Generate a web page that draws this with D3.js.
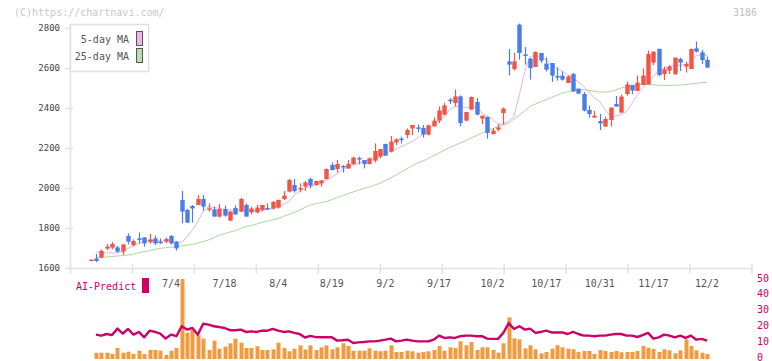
<!DOCTYPE html>
<html><head><meta charset="utf-8">
<script src="https://cdn.jsdelivr.net/npm/d3@7"></script>
<style>body{margin:0;background:#fff;} svg{display:block;}</style>
</head><body>
<svg id="c" width="772" height="361"></svg>
<script>
// ---- data ----
const dateLabels = ["7/4","7/18","8/4","8/19","9/2","9/17","10/2","10/17","10/31","11/17","12/2"];
const labelIndex = [15,25,35,45,55,65,75,85,95,105,115];
const priceTicks = [1600,1800,2000,2200,2400,2600,2800];
const aiTicks = [0,10,20,30,40,50];

const open  = [1638,1647,1653,1697,1702,1703,1682,1760,1715,1748,1753,1730,1748,1732,1732,1760,1730,1940,1890,1910,
               1915,1945,1895,1893,1857,1895,1837,1900,1882,1915,1878,1878,1890,1900,1897,1902,1945,1982,2015,1997,
               2007,2045,2015,2023,2045,2115,2095,2110,2098,2120,2150,2140,2120,2137,2157,2220,2182,2228,2247,2265,
               2298,2303,2300,2267,2308,2337,2367,2442,2425,2458,2337,2392,2430,2347,2355,2270,2292,2375,2633,2595,
               2817,2668,2647,2605,2675,2622,2625,2560,2562,2525,2570,2497,2470,2390,2352,2335,2307,2340,2420,2377,
               2470,2515,2485,2515,2518,2627,2695,2570,2587,2568,2645,2607,2595,2698,2678,2640];
const high  = [1643,1670,1693,1720,1730,1710,1718,1773,1743,1778,1753,1770,1762,1748,1752,1765,1735,1985,1895,1915,
               1965,1965,1923,1907,1920,1912,1885,1913,1950,1923,1907,1915,1915,1923,1935,1943,1985,2045,2045,2023,
               2035,2052,2035,2038,2098,2128,2140,2115,2140,2157,2157,2140,2153,2223,2195,2222,2260,2248,2257,2298,
               2315,2318,2315,2317,2353,2408,2425,2450,2492,2463,2380,2458,2450,2362,2358,2300,2320,2403,2695,2675,
               2822,2705,2650,2683,2675,2653,2625,2603,2583,2563,2575,2497,2480,2412,2385,2370,2357,2402,2460,2468,
               2532,2515,2562,2598,2687,2682,2698,2607,2615,2652,2652,2632,2698,2732,2690,2657];
const low   = [1637,1630,1648,1690,1693,1677,1665,1718,1707,1723,1707,1720,1715,1720,1723,1718,1687,1823,1825,1827,
               1915,1887,1882,1857,1853,1857,1835,1865,1880,1857,1868,1873,1882,1890,1893,1897,1940,1978,1978,1978,
               1985,1998,2012,2007,2043,2088,2077,2077,2095,2115,2118,2098,2118,2128,2148,2160,2178,2215,2223,2248,
               2265,2278,2252,2263,2308,2325,2363,2420,2408,2308,2333,2392,2363,2320,2247,2267,2283,2317,2563,2587,
               2642,2617,2542,2605,2625,2583,2530,2537,2537,2525,2480,2470,2383,2352,2352,2290,2307,2307,2407,2377,
               2462,2470,2485,2515,2518,2615,2560,2540,2570,2568,2585,2577,2595,2678,2620,2602];
const close = [1642,1635,1685,1707,1720,1682,1718,1732,1735,1745,1723,1743,1723,1730,1745,1723,1698,1882,1827,1898,
               1945,1907,1898,1857,1895,1862,1882,1868,1945,1857,1898,1902,1915,1897,1930,1940,1962,2040,1985,2000,
               2028,2012,2035,2038,2095,2090,2120,2108,2120,2152,2147,2120,2148,2185,2195,2162,2232,2243,2245,2290,
               2315,2300,2267,2313,2337,2388,2413,2433,2458,2325,2380,2455,2367,2362,2275,2287,2303,2397,2617,2633,
               2675,2663,2600,2680,2637,2592,2562,2557,2542,2558,2483,2472,2387,2370,2362,2323,2345,2402,2407,2457,
               2518,2487,2527,2562,2670,2682,2565,2593,2607,2652,2627,2620,2695,2682,2640,2602];

const ma5  = [null,1680,1680,1677,1675,1675,1687,1698,1710,1723,1732,1737,1737,1735,1735,1735,1732,1727,1757,1790,
              1832,1882,1907,1903,1898,1893,1890,1887,1890,1885,1888,1885,1890,1895,1900,1907,1920,1932,1965,1985,
              1998,2007,2015,2025,2040,2055,2072,2090,2103,2115,2123,2132,2140,2148,2160,2173,2185,2195,2207,2220,
              2232,2250,2268,2290,2317,2337,2358,2392,2408,2405,2403,2403,2403,2375,2360,2342,2320,2320,2335,2358,
              2467,2583,2658,2660,2658,2640,2617,2600,2583,2566,2550,2530,2508,2480,2450,2432,2390,2360,2360,2368,
              2382,2423,2465,2498,2528,2557,2590,2598,2607,2612,2615,2615,2635,2662,2668,2662];
const ma25 = [null,1652,1653,1655,1658,1660,1662,1665,1670,1676,1682,1687,1693,1698,1701,1704,1707,1711,1714,1718,
              1725,1732,1740,1752,1765,1772,1780,1787,1797,1807,1812,1820,1828,1835,1841,1848,1858,1868,1878,1890,
              1903,1915,1921,1926,1932,1942,1952,1962,1971,1980,1989,1998,2006,2015,2023,2037,2051,2065,2080,2096,
              2112,2124,2135,2148,2162,2175,2189,2203,2214,2226,2237,2250,2262,2275,2286,2297,2308,2316,2325,2345,
              2365,2386,2408,2420,2431,2442,2453,2464,2475,2481,2487,2490,2492,2488,2483,2480,2479,2482,2490,2500,
              2507,2510,2515,2517,2518,2516,2514,2513,2513,2514,2515,2517,2520,2523,2527,2528];

const volume = [null,63,63,63,50,110,63,73,50,83,50,90,90,83,40,83,110,800,263,290,
                237,203,90,183,103,123,157,203,163,110,110,127,90,90,97,163,110,77,103,137,
                95,137,90,117,137,97,117,157,130,83,83,83,107,83,77,83,137,70,70,83,
                77,63,70,77,90,130,83,117,110,177,137,170,90,117,117,90,63,157,417,207,
                197,107,137,97,57,70,103,137,117,103,97,70,80,80,50,90,80,70,80,67,
                70,70,80,130,113,100,70,97,87,57,87,197,130,87,63,50];

const aiPredict = [null,14.3,13.7,14.7,14,18.1,15,17.9,14.3,16,12.6,16.8,16,15,11.8,14.3,13.3,19.6,17.5,18.5,
                   14.3,21.2,20.6,19.6,19.1,18.5,17.1,17.1,17.5,16,16.4,16,16.8,16.8,17.9,16.8,16,16.4,15.4,14.7,
                   12.5,13.5,12.7,12.6,12.6,12.6,10.5,10.7,11.1,9,9.4,9.6,10,10,10.5,11.1,11.8,10,10.5,11.1,
                   10.5,10,10,10,11.1,13.7,12.2,12.6,12.2,13.3,13.7,13.7,13.3,13.3,11.8,11.6,11.6,15.4,21.6,17.9,
                   19.6,17.5,18.1,15.4,16,16.8,15.7,15.7,15.7,14.7,16,14.7,13.7,13.7,13.3,13.7,13.7,14.3,14.7,14.7,
                   13.7,13.7,12.8,14,15.4,11.8,12.6,14.3,13.7,12.6,13.7,12.2,13.7,11.1,11.6,10.5];

// ---- drawing ----
const svg = d3.select("#c");
const FONT = "'DejaVu Sans Mono', 'Liberation Mono', monospace";
const RED = "#f05545", BLUE = "#4a7de8", GRID = "#e2e2e2";
const n = close.length;
const idx = d3.range(n);

const x = d3.scaleLinear().domain([0, n - 1]).range([90.6, 707]);
const y = d3.scaleLinear().domain([1600, 2800]).range([268, 28]);
const yVol = d3.scaleLinear().domain([0, 800]).range([359, 279]);
const yAI = d3.scaleLinear().domain([0, 50]).range([357.2, 278.3]);
const frame = d3.scaleLinear().domain([0, 11]).range([70.5, 752]);

// watermark
svg.append("text").attr("x", 14).attr("y", 16).attr("font-family", FONT).attr("font-size", 10)
  .attr("fill", "#c8c8c8").text("(C)https://chartnavi.com/");
svg.append("text").attr("x", 757).attr("y", 16).attr("text-anchor", "end").attr("font-family", FONT)
  .attr("font-size", 10).attr("fill", "#c0c0c0").text("3186");

// axes frame
svg.append("line").attr("x1", 70.5).attr("x2", 70.5).attr("y1", 24).attr("y2", 271)
  .attr("stroke", GRID).attr("stroke-width", 1.5);
svg.append("line").attr("x1", 70.5).attr("x2", 752).attr("y1", 268.5).attr("y2", 268.5)
  .attr("stroke", GRID).attr("stroke-width", 1.5);
svg.append("g").selectAll("line").data(d3.range(12)).join("line")
  .attr("x1", d => frame(d)).attr("x2", d => frame(d)).attr("y1", 264).attr("y2", 274)
  .attr("stroke", GRID).attr("stroke-width", 1.5);

// y axis ticks & labels
const yg = svg.append("g");
yg.selectAll("line").data(priceTicks).join("line")
  .attr("x1", 65).attr("x2", 73).attr("y1", d => y(d) + 0.5).attr("y2", d => y(d) + 0.5)
  .attr("stroke", GRID).attr("stroke-width", 1.5);
yg.selectAll("text").data(priceTicks).join("text")
  .attr("x", 60).attr("y", d => y(d) + 3).attr("text-anchor", "end")
  .attr("font-family", FONT).attr("font-size", 9).attr("fill", "#444").text(d => d);

// x labels
svg.append("g").selectAll("text").data(dateLabels).join("text")
  .attr("x", (d, i) => x(labelIndex[i])).attr("y", 287).attr("text-anchor", "middle")
  .attr("font-family", FONT).attr("font-size", 10).attr("fill", "#555").text(d => d);

// moving averages
const lineGen = (arr, sc) => d3.line().defined(i => arr[i] != null).x(i => x(i)).y(i => sc(arr[i]));
svg.append("path").attr("d", lineGen(ma25, y)(idx)).attr("fill", "none")
  .attr("stroke", "#a9d89f").attr("stroke-width", 1);
svg.append("path").attr("d", lineGen(ma5, y)(idx)).attr("fill", "none")
  .attr("stroke", "#e6b2ea").attr("stroke-width", 1);

// candles
const cg = svg.append("g");
const bw = 4.4;
idx.forEach(i => {
  const up = close[i] >= open[i];
  const col = up ? RED : BLUE;
  const cx = Math.round(x(i)) + 0.5;
  cg.append("line").attr("x1", cx).attr("x2", cx).attr("y1", y(high[i])).attr("y2", y(low[i]))
    .attr("stroke", col).attr("stroke-width", 1.2);
  const top = y(Math.max(open[i], close[i])), bot = y(Math.min(open[i], close[i]));
  cg.append("rect").attr("x", cx - bw / 2).attr("y", top).attr("width", bw)
    .attr("height", Math.max(1.5, bot - top)).attr("fill", col);
});

// legend
const lg = svg.append("g");
lg.append("rect").attr("x", 70.5).attr("y", 24.5).attr("width", 78).attr("height", 47)
  .attr("fill", "#fff").attr("stroke", "#e0e0e0").attr("stroke-width", 1.5);
lg.append("text").attr("x", 129).attr("y", 43).attr("text-anchor", "end").attr("font-family", FONT)
  .attr("font-size", 10).attr("fill", "#555").text("5-day MA");
lg.append("text").attr("x", 129).attr("y", 60).attr("text-anchor", "end").attr("font-family", FONT)
  .attr("font-size", 10).attr("fill", "#555").text("25-day MA");
lg.append("rect").attr("x", 136.5).attr("y", 31.5).attr("width", 6).attr("height", 14)
  .attr("fill", "#eab8ea").attr("stroke", "#555").attr("stroke-width", 1);
lg.append("rect").attr("x", 136.5).attr("y", 48.5).attr("width", 6).attr("height", 14)
  .attr("fill", "#b9dcae").attr("stroke", "#555").attr("stroke-width", 1);

// volume bars
svg.append("g").selectAll("rect").data(idx.filter(i => volume[i] != null)).join("rect")
  .attr("x", i => Math.round(x(i)) + 0.5 - 2).attr("width", 4)
  .attr("y", i => yVol(volume[i])).attr("height", i => yVol(0) - yVol(volume[i]))
  .attr("fill", "#f39a3e");

// AI predict line
svg.append("path").attr("d", lineGen(aiPredict, yAI)(idx)).attr("fill", "none")
  .attr("stroke", "#cc0066").attr("stroke-width", 2.4).attr("stroke-linejoin", "round");

// AI axis labels
svg.append("g").selectAll("text").data(aiTicks).join("text")
  .attr("x", 757).attr("y", d => yAI(d) + 3.3).attr("font-family", FONT).attr("font-size", 10)
  .attr("fill", "#cc0066").text(d => d);

// AI legend
svg.append("text").attr("x", 76).attr("y", 290).attr("font-family", FONT).attr("font-size", 10)
  .attr("fill", "#cc0066").text("AI-Predict");
svg.append("rect").attr("x", 142).attr("y", 278).attr("width", 7).attr("height", 15).attr("fill", "#cc0066");
</script>
</body></html>
